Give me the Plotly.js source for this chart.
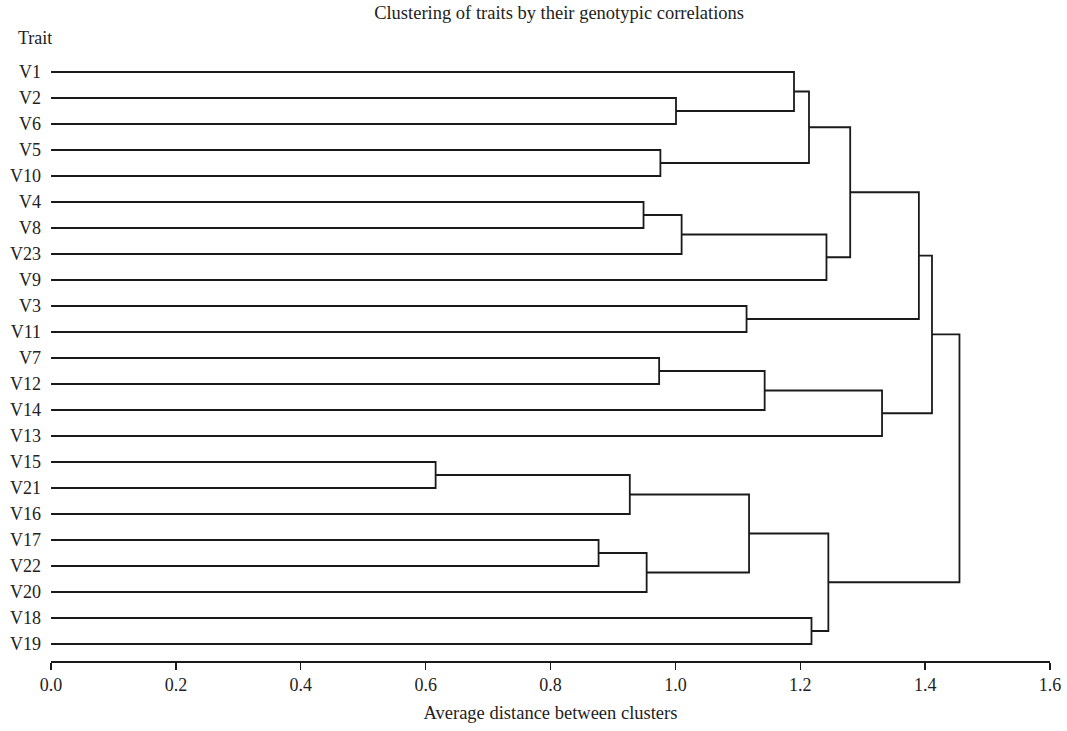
<!DOCTYPE html>
<html>
<head>
<meta charset="utf-8">
<script src="https://cdn.plot.ly/plotly-3.0.1.min.js"></script>
<style>html,body{margin:0;padding:0;background:#fff;}#chart{width:1067px;height:731px;}</style>
</head>
<body>
<div id="chart"></div>
<script>
// Leaf order (top to bottom)
var leaves = ["V1","V2","V6","V5","V10","V4","V8","V23","V9","V3","V11","V7","V12","V14","V13","V15","V21","V16","V17","V22","V20","V18","V19"];
// Merges: cluster Ck is formed by mergeLeft[k] and mergeRight[k] at mergeHeight[k]
var mergeLeft  = ["V2","V1","V5","C1","V4","C4","C5","C3","V3","C7","V7","C10","C11","C9","V15","C14","V17","C16","C15","V18","C18","C13"];
var mergeRight = ["V6","C0","V10","C2","V8","V23","V9","C6","V11","C8","V12","V14","V13","C12","V21","V16","V22","V20","C17","V19","C19","C20"];
var mergeHeight = [1.001,1.190,0.976,1.214,0.949,1.010,1.242,1.280,1.114,1.390,0.974,1.143,1.331,1.411,0.616,0.927,0.877,0.954,1.118,1.218,1.245,1.455];
var xTicks = [0.0,0.2,0.4,0.6,0.8,1.0,1.2,1.4,1.6];

var pos = {}, hgt = {};
leaves.forEach(function(l,i){ pos[l] = i+1; hgt[l] = 0; });
var xs = [], ys = [];
for (var k=0;k<mergeHeight.length;k++){
  var a = mergeLeft[k], b = mergeRight[k], h = mergeHeight[k];
  var ya = pos[a], yb = pos[b];
  xs.push(hgt[a], h, h, hgt[b], null);
  ys.push(ya, ya, yb, yb, null);
  pos["C"+k] = (ya+yb)/2; hgt["C"+k] = h;
}

var fam = "Liberation Serif, Times New Roman, serif";
var col = "#222";
var trace = {x:xs, y:ys, mode:"lines", type:"scatter", line:{color:"#1a1a1a", width:1.8}, hoverinfo:"skip", showlegend:false, connectgaps:false};

var layout = {
  width:1067, height:731,
  margin:{l:51, r:17, t:55, b:70},
  paper_bgcolor:"#fff", plot_bgcolor:"#fff",
  font:{family:fam, size:18, color:col},
  title:{text:"Clustering of traits by their genotypic correlations", font:{family:fam,size:18.5,color:col}, x:0.524, xanchor:"center", y:0.992, yanchor:"top"},
  xaxis:{range:[0,1.6], tickvals:xTicks, ticktext:xTicks.map(function(v){return v.toFixed(1);}), showgrid:false, zeroline:false,
         showline:true, linecolor:"#1a1a1a", linewidth:1.8, ticks:"outside", ticklen:7, tickwidth:1.3, tickcolor:"#1a1a1a",
         tickfont:{family:fam,size:18,color:col},
         title:{text:"Average distance between clusters", font:{family:fam,size:18.5,color:col}, standoff:12}},
  yaxis:{range:[23.654,0.346], tickvals:leaves.map(function(l,i){return i+1;}), ticktext:leaves, showgrid:false, zeroline:false,
         showline:false, ticks:"", ticklabelstandoff:9, tickfont:{family:fam,size:18,color:col}},
  annotations:[{text:"Trait", xref:"paper", yref:"paper", x:-0.035, y:1.0, xanchor:"left", yanchor:"bottom", yshift:5, showarrow:false, font:{family:fam,size:18,color:col}}]
};
Plotly.newPlot("chart",[trace],layout,{displayModeBar:false, staticPlot:true});
</script>
</body>
</html>
